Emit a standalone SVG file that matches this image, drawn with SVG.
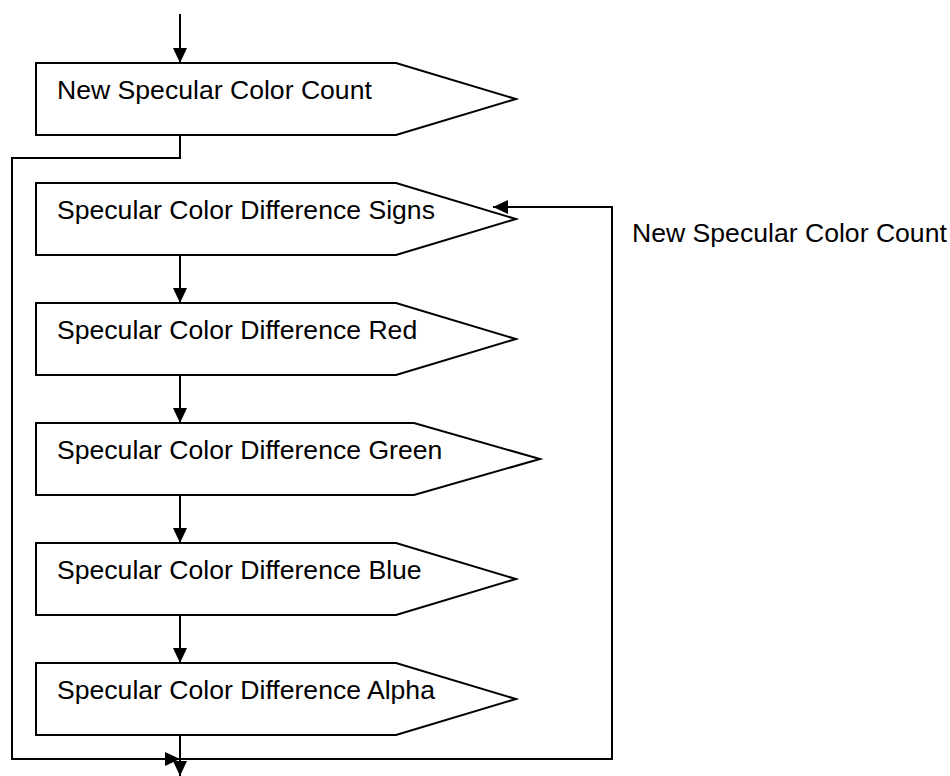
<svg xmlns="http://www.w3.org/2000/svg" width="950" height="776" viewBox="0 0 950 776">
<style>
.shape{fill:#fff;stroke:#000;stroke-width:2;stroke-linejoin:miter}
.lbl{font-family:"Liberation Sans",Arial,sans-serif;font-size:26.6px;fill:#000}
.conn{fill:none;stroke:#000;stroke-width:2}
</style>
<defs>
<marker id="ah" viewBox="0 0 15 14" refX="15" refY="7" markerWidth="15" markerHeight="14" markerUnits="userSpaceOnUse" orient="auto">
<path d="M0,0 L15,7 L0,14 Z" fill="#000"/>
</marker>
</defs>
<rect width="950" height="776" fill="#fff"/>
<g id="n1"><path class="shape" d="M36,63 H396 L516,99 L396,135 H36 Z"/><text class="lbl" x="57" y="99">New Specular Color Count</text></g>
<g id="n2"><path class="shape" d="M36,183 H396 L516,219 L396,255 H36 Z"/><text class="lbl" x="57" y="219">Specular Color Difference Signs</text></g>
<g id="n3"><path class="shape" d="M36,303 H396 L516,339 L396,375 H36 Z"/><text class="lbl" x="57" y="339">Specular Color Difference Red</text></g>
<g id="n4"><path class="shape" d="M36,423 H414 L540,459 L414,495 H36 Z"/><text class="lbl" x="57" y="459">Specular Color Difference Green</text></g>
<g id="n5"><path class="shape" d="M36,543 H396 L516,579 L396,615 H36 Z"/><text class="lbl" x="57" y="579">Specular Color Difference Blue</text></g>
<g id="n6"><path class="shape" d="M36,663 H396 L516,699 L396,735 H36 Z"/><text class="lbl" x="57" y="699">Specular Color Difference Alpha</text></g>
<g id="loop-label"><text class="lbl" x="632" y="242">New Specular Color Count</text></g>
<g id="connectors">
<path class="conn" d="M180,14 V63" marker-end="url(#ah)"/>
<path class="conn" d="M180,135 V158 H12 V759 H180" marker-end="url(#ah)"/>
<path class="conn" d="M180,255 V303" marker-end="url(#ah)"/>
<path class="conn" d="M180,375 V423" marker-end="url(#ah)"/>
<path class="conn" d="M180,495 V543" marker-end="url(#ah)"/>
<path class="conn" d="M180,615 V663" marker-end="url(#ah)"/>
<path class="conn" d="M180,735 V759 H612 V207 H493" marker-end="url(#ah)"/>
<path class="conn" d="M180,759 V776" marker-end="url(#ah)"/>
</g>
</svg>
